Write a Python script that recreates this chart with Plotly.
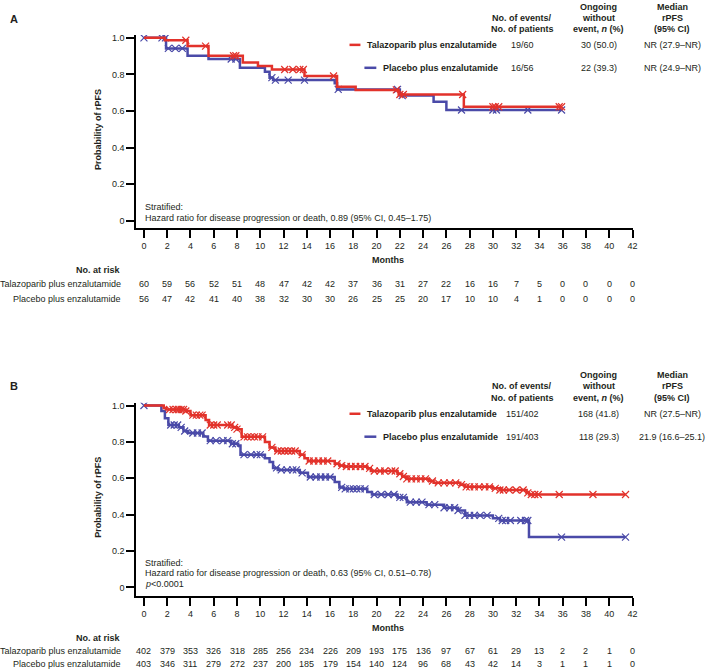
import numpy as np
import plotly.graph_objects as go

W, H = 709, 670
FONT = "Liberation Sans, Arial, sans-serif"
TXT = "#231f20"
RED = "#e2322b"
BLUE = "#4a4aa8"

month_ticks = list(range(0, 43, 2))
prob_ticks = [0, 0.2, 0.4, 0.6, 0.8, 1.0]
prob_labels = ["0", "0.2", "0.4", "0.6", "0.8", "1.0"]

arms = ["Talazoparib plus enzalutamide", "Placebo plus enzalutamide"]

# ---------------- Panel A data ----------------
a_tal_t = [0, 1.8, 3.75, 5.55, 8.5, 9.8, 11.0, 13.8, 16.6, 18.2, 21.9, 27.5, 35.9]
a_tal_s = [1.0, 0.987, 0.955, 0.902, 0.865, 0.846, 0.827, 0.791, 0.733, 0.715, 0.69, 0.623, 0.623]
a_tal_cens = [3.6, 5.3, 7.7, 7.9, 12.1, 12.8, 13.4, 13.7, 16.3, 21.7, 22.0, 22.3, 27.4,
              30.0, 30.2, 30.5, 35.7, 35.9]
a_pla_t = [0, 1.9, 3.75, 5.55, 8.25, 10.4, 10.8, 11.1, 16.4, 16.6, 22.0, 24.9, 26.0, 35.9]
a_pla_s = [1.0, 0.942, 0.902, 0.884, 0.836, 0.815, 0.782, 0.769, 0.751, 0.718, 0.684, 0.651, 0.605, 0.605]
a_pla_cens = [0, 1.55, 1.85, 2.1, 2.7, 3.3, 7.5, 7.9, 11.0, 11.3, 12.4, 13.8, 16.7, 21.8,
              22.2, 27.3, 30.0, 30.3, 33.0, 35.9]
a_risk_tal = [60, 59, 56, 52, 51, 48, 47, 42, 42, 37, 36, 31, 27, 22, 16, 16, 7, 5, 0, 0, 0, 0]
a_risk_pla = [56, 47, 42, 41, 40, 38, 32, 30, 30, 26, 25, 25, 20, 17, 10, 10, 4, 1, 0, 0, 0, 0]
a_events = ["19/60", "16/56"]
a_ongoing = ["30 (50.0)", "22 (39.3)"]
a_median = ["NR (27.9–NR)", "NR (24.9–NR)"]
a_hr = ["Stratified:", "Hazard ratio for disease progression or death, 0.89 (95% CI, 0.45–1.75)"]

# ---------------- Panel B data ----------------
b_tal_t = [0, 1.7, 1.9, 3.6, 4.0, 5.3, 5.6, 7.6, 8.0, 8.4, 10.4, 10.8, 11.3, 13.4, 13.8, 14.1,
           16.4, 16.8, 17.2, 19.2, 19.5, 21.8, 22.2, 22.6, 24.5, 24.9, 27.2, 27.6, 30.0, 30.6,
           32.9, 33.1, 41.4]
b_tal_s = [1.0, 0.986, 0.978, 0.97, 0.947, 0.92, 0.893, 0.88, 0.87, 0.828, 0.80, 0.77, 0.75,
           0.73, 0.71, 0.695, 0.68, 0.67, 0.665, 0.655, 0.64, 0.625, 0.61, 0.597, 0.585, 0.575,
           0.565, 0.553, 0.545, 0.536, 0.52, 0.511, 0.511]
b_tal_cens = [2.2, 2.5, 2.8, 3.0, 3.2, 3.4, 3.6, 4.2, 4.5, 4.8, 5.0, 5.7, 6.0, 6.3, 7.2, 7.5,
              7.8, 8.0, 8.6, 8.9, 9.2, 9.5, 9.8, 10.2, 11.0, 11.5, 11.8, 12.1, 12.4, 12.7, 13.0,
              13.6, 14.2, 14.6, 15.0, 15.4, 15.8, 16.6, 17.0, 17.4, 17.8, 18.2, 18.6, 19.0,
              19.4, 19.8, 20.3, 20.7, 21.3, 21.6, 22.0, 22.3, 22.6, 23.0, 23.4, 23.8, 24.2,
              24.8, 25.3, 25.8, 26.3, 26.8, 27.3, 27.7, 28.0, 28.4, 28.8, 29.3, 29.7, 30.2,
              30.6, 30.9, 31.4, 32.0, 32.6, 33.0, 33.3, 33.6, 33.9, 35.7, 38.6, 41.4]
b_pla_t = [0, 1.5, 1.8, 2.1, 3.0, 3.4, 3.8, 5.1, 5.5, 7.5, 8.1, 8.3, 10.4, 10.8, 11.1, 11.5,
           13.4, 14.1, 16.4, 16.8, 17.2, 19.2, 19.6, 21.8, 22.6, 24.3, 25.8, 27.0, 27.6, 30.0,
           30.6, 33.1, 41.4]
b_pla_s = [1.0, 0.97, 0.93, 0.893, 0.88, 0.86, 0.849, 0.83, 0.807, 0.79, 0.78, 0.73, 0.71,
           0.69, 0.657, 0.646, 0.63, 0.607, 0.58, 0.55, 0.542, 0.525, 0.511, 0.495, 0.469,
           0.455, 0.438, 0.423, 0.396, 0.38, 0.368, 0.277, 0.277]
b_pla_cens = [0, 2.3, 2.6, 2.9, 3.2, 3.5, 4.2, 4.6, 5.0, 5.7, 6.2, 6.8, 7.2, 7.6, 7.9, 8.6,
              9.2, 9.7, 10.0, 11.4, 11.8, 12.3, 12.8, 13.1, 13.6, 14.3, 14.8, 15.2, 15.6, 16.0,
              17.0, 17.3, 17.7, 18.0, 18.3, 18.6, 19.0, 19.8, 20.4, 21.0, 21.5, 22.0, 22.3,
              22.9, 23.4, 23.9, 24.5, 25.0, 25.8, 26.3, 26.7, 27.0, 27.6, 28.0, 28.4, 28.9,
              29.5, 30.5, 30.8, 31.1, 31.5, 32.4, 32.8, 33.0, 35.9, 41.4]
b_risk_tal = [402, 379, 353, 326, 318, 285, 256, 234, 226, 209, 193, 175, 136, 97, 67, 61, 29, 13, 2, 2, 1, 0]
b_risk_pla = [403, 346, 311, 279, 272, 237, 200, 185, 179, 154, 140, 124, 96, 68, 43, 42, 14, 3, 1, 1, 1, 0]
b_events = ["151/402", "191/403"]
b_ongoing = ["168 (41.8)", "118 (29.3)"]
b_median = ["NR (27.5–NR)", "21.9 (16.6–25.1)"]
b_hr = ["Stratified:", "Hazard ratio for disease progression or death, 0.63 (95% CI, 0.51–0.78)",
        "<i>p</i><0.0001"]


def px(x):
    return x / W


def py(y):
    return 1 - y / H


def step_at(times, surv, t):
    idx = np.searchsorted(np.asarray(times), t, side="right") - 1
    return [surv[max(i, 0)] for i in np.atleast_1d(idx)]


fig = go.Figure()


def add_curves(xa, ya, t1, s1, c1, t2, s2, c2):
    for t, s, c, col in [(t2, s2, c2, BLUE), (t1, s1, c1, RED)]:
        fig.add_trace(go.Scatter(x=t, y=s, mode="lines", line=dict(color=col, width=2.5, shape="hv"),
                                 xaxis=xa, yaxis=ya, showlegend=False, hoverinfo="skip"))
        fig.add_trace(go.Scatter(x=c, y=step_at(t, s, c), mode="markers",
                                 marker=dict(symbol="x-thin", size=7,
                                             line=dict(color=col, width=1.2)),
                                 xaxis=xa, yaxis=ya, showlegend=False, hoverinfo="skip"))


add_curves("x", "y", a_tal_t, a_tal_s, a_tal_cens, a_pla_t, a_pla_s, a_pla_cens)
add_curves("x2", "y2", b_tal_t, b_tal_s, b_tal_cens, b_pla_t, b_pla_s, b_pla_cens)

axis_common = dict(showline=True, linecolor="black", linewidth=1.5, ticks="outside",
                   ticklen=8, tickwidth=1.5, tickcolor="black", showgrid=False, zeroline=False,
                   tickfont=dict(family=FONT, size=9, color=TXT))

xdom = [px(137), px(637)]
fig.update_layout(
    width=W, height=H, margin=dict(l=0, r=0, t=0, b=0),
    paper_bgcolor="white", plot_bgcolor="white",
    font=dict(family=FONT, size=9, color=TXT),
    xaxis=dict(domain=xdom, anchor="y", range=[-0.68, 42.0], tickvals=month_ticks, **axis_common),
    yaxis=dict(domain=[py(227), py(33)], anchor="x", range=[-0.042, 1.016],
               tickvals=prob_ticks, ticktext=prob_labels, **axis_common),
    xaxis2=dict(domain=xdom, anchor="y2", range=[-0.68, 42.0], tickvals=month_ticks, **axis_common),
    yaxis2=dict(domain=[py(596), py(402)], anchor="x2", range=[-0.048, 1.015],
                tickvals=prob_ticks, ticktext=prob_labels, **axis_common),
)

ann = []


def text(x, y, s, size=9, bold=False, xanchor="center", **kw):
    if bold:
        s = "<b>" + s + "</b>"
    ann.append(dict(x=px(x), y=py(y), xref="paper", yref="paper", text=s, showarrow=False,
                    xanchor=xanchor, yanchor="middle",
                    font=dict(family=FONT, size=size, color=TXT), **kw))


def panel(letter, y0, header_y, row_y, events, ongoing, median, hr_lines, hr_y,
          months_y, risk_y, risk_tal, risk_pla, xref, ytitle_y, line_x):
    text(8, y0, letter, size=11, bold=True, xanchor="left")
    # legend table header
    text(526, header_y[1], "No. of events/", bold=True)
    text(526, header_y[2], "No. of patients", bold=True)
    text(603, header_y[0], "Ongoing", bold=True)
    text(603, header_y[1], "without", bold=True)
    text(603, header_y[2], "event, <i>n</i> (%)", bold=True)
    text(677, header_y[0], "Median", bold=True)
    text(677, header_y[1], "rPFS", bold=True)
    text(677, header_y[2], "(95% CI)", bold=True)
    for i, (arm, col) in enumerate(zip(arms, [RED, BLUE])):
        text(line_x[i][1] + 5, row_y[i], arm, bold=True, xanchor="left")
        text(526, row_y[i], events[i])
        text(603, row_y[i], ongoing[i])
        text(677, row_y[i], median[i])
        fig.add_shape(type="line", xref="paper", yref="paper",
                      x0=px(line_x[i][0]), x1=px(line_x[i][1]), y0=py(row_y[i]), y1=py(row_y[i]),
                      line=dict(color=col, width=2.5))
    for k, s in enumerate(hr_lines):
        text(144, hr_y[k], s, xanchor="left")
    text(391, months_y, "Months", bold=True)
    text(98, ytitle_y, "Probability of rPFS", bold=True, textangle=-90)
    text(124, risk_y[0], "No. at risk", bold=True, xanchor="right")
    text(124, risk_y[1], arms[0], xanchor="right")
    text(124, risk_y[2], arms[1], xanchor="right")
    for row, vals in [(risk_y[1], risk_tal), (risk_y[2], risk_pla)]:
        for m, v in zip(month_ticks, vals):
            ann.append(dict(x=m, xref=xref, y=py(row), yref="paper", text=str(v), showarrow=False,
                            xanchor="center", yanchor="middle",
                            font=dict(family=FONT, size=9, color=TXT)))


panel("A", 17, [5, 16, 27], [43, 66], a_events, a_ongoing, a_median, a_hr, [206, 217],
      259, [269, 283, 298], a_risk_tal, a_risk_pla, "x", 128,
      [(352, 363), (367, 379)])
panel("B", 385, [374, 385, 397], [413, 436], b_events, b_ongoing, b_median, b_hr,
      [563, 573, 584], 628, [638, 651, 664], b_risk_tal, b_risk_pla, "x2", 497,
      [(352, 363), (367, 379)])

fig.update_layout(annotations=ann)
fig.write_html("out.html", config={"displayModeBar": False},
               post_script="document.body.style.margin='0px';document.body.style.overflow='hidden';")
